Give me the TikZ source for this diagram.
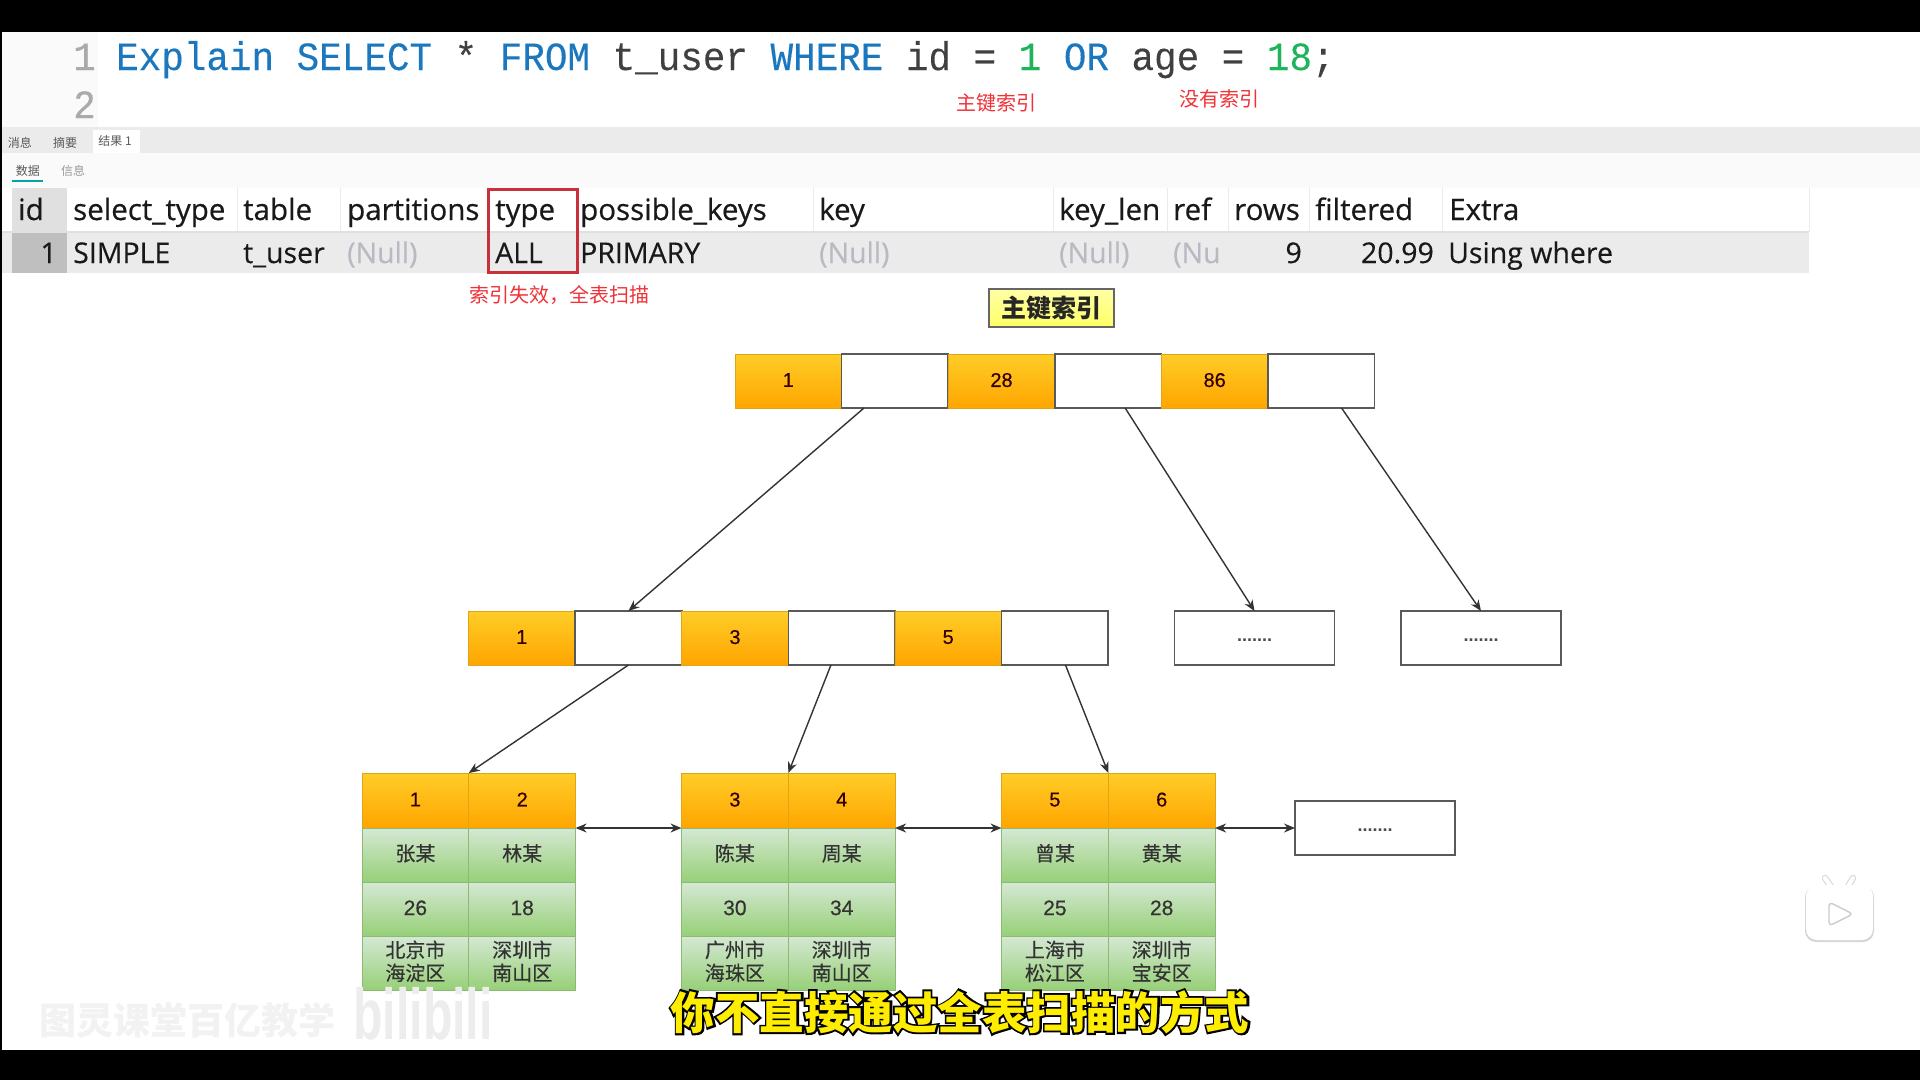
\documentclass[tikz,border=0pt]{standalone}
\usepackage{fontspec}
\setmainfont{Open Sans}
\newfontfamily\headfont[FakeBold=0.5]{Open Sans}
\newfontfamily\valfont[FakeBold=0.3]{Open Sans}
\newfontfamily\sqlfont[FakeStretch=0.94,FakeBold=0.2]{Liberation Mono}
\newfontfamily\cjk{Noto Sans CJK SC}
\newfontfamily\cjkleaf[FakeBold=0.3]{Noto Sans CJK SC}
\newfontfamily\outlinefont[FakeBold=10]{Noto Sans CJK SC Bold}
\newfontfamily\numfont{Liberation Sans}
\newfontfamily\digitfont[FakeBold=0.4]{Liberation Sans}
\usetikzlibrary{positioning,arrows.meta,calc}
\definecolor{sqlblue}{RGB}{28,120,190}
\definecolor{sqlgreen}{RGB}{30,180,90}
\definecolor{sqlgray}{RGB}{170,170,170}
\definecolor{nullgray}{RGB}{185,185,195}
\definecolor{notered}{RGB}{240,50,55}
\definecolor{boxred}{RGB}{200,48,60}
\definecolor{keytop}{RGB}{255,205,40}
\definecolor{keybot}{RGB}{255,165,0}
\definecolor{keyline}{RGB}{225,165,20}
\definecolor{datatop}{RGB}{213,232,212}
\definecolor{databot}{RGB}{151,208,119}
\definecolor{dataline}{RGB}{140,185,115}
\newcommand{\fsize}[1]{\fontsize{#1}{#1}\selectfont}

\begin{document}
\begin{tikzpicture}[
    x=1pt, y=-1pt,
    keycell/.style={rectangle, draw=keyline, line width=0.8pt, top color=keytop, bottom color=keybot,
                    minimum width=106.6pt, minimum height=54pt, inner sep=0pt, outer sep=0pt, text depth=2pt,
                    font=\digitfont\fsize{20}, text=black!80!red},
    ptrcell/.style={rectangle, draw=black!65, line width=1.6pt, fill=white,
                    minimum width=106.6pt, minimum height=54pt, inner sep=0pt, outer sep=0pt},
    dotbox/.style={ptrcell, minimum width=160pt, font=\numfont\bfseries\fsize{18}, text=black!70},
    datacell/.style={rectangle, draw=dataline, line width=0.7pt, top color=datatop, bottom color=databot,
                     minimum width=106.8pt, minimum height=54pt, inner sep=0pt, outer sep=0pt, align=center, text depth=5pt,
                     font=\cjkleaf\fontsize{20}{23}\selectfont, text=black!80},
    numcell/.style={datacell, text depth=2.5pt, font=\digitfont\fsize{21}},
    headcell/.style={keycell, minimum width=106.8pt, minimum height=55pt},
    colhead/.style={anchor=base west, inner sep=0pt, font=\headfont\fsize{29.5}, text=black!90},
    colval/.style={anchor=base west, inner sep=0pt, font=\valfont\fsize{28.5}, text=black!90},
    nullval/.style={colval, text=nullgray},
    redlabel/.style={inner sep=0pt, font=\cjk\fsize{20}, text=notered},
    tabtext/.style={inner sep=0pt, font=\cjk\fsize{12}, text=black!65},
    flow/.style={-{Stealth[length=11pt,width=9pt]}, line width=1.4pt, draw=black!80},
    link/.style={{Stealth[length=11pt,width=9pt]}-{Stealth[length=11pt,width=9pt]}, line width=1.4pt, draw=black!80}]
  \useasboundingbox (0,0) rectangle (1920,1080);
  % frame and panels
  \fill[black] (0,0) rectangle (1920,1080);
  \fill[white] (2,32) rectangle (1920,1050);
  \fill[black!2] (2,32) rectangle (98,127);
  \fill[black!8] (2,127) rectangle (1920,153);
  \fill[black!2] (2,153) rectangle (1920,188);
  \fill[white] (93,130) rectangle (140,153);
  \fill[white] (2,188) rectangle (1809,232);
  \fill[black!8] (2,232) rectangle (1809,273);
  \fill[black!12] (12,188) rectangle (67,232);
  \fill[black!25] (12,232) rectangle (67,273);
  \foreach \sepx in {237,340,488,577,813,1053,1167,1228,1309,1442,1809}
    \draw[black!8, line width=1pt] (\sepx,188) -- (\sepx,232);
  \draw[black!12, line width=1.2pt] (2,232) -- (1809,232);
  % sql
  \node[anchor=base east, inner sep=0pt, font=\sqlfont\fsize{40}, text=sqlgray] (ln1) at (96,70) {1};
  \node[anchor=base east, inner sep=0pt, font=\sqlfont\fsize{40}, text=sqlgray] (ln2) at (96,118) {2};
  \node[anchor=base west, inner sep=0pt, font=\sqlfont\fsize{40}, text=black!75] (sql) at (116,70)
    {\textcolor{sqlblue}{Explain SELECT} * \textcolor{sqlblue}{FROM} t\_user \textcolor{sqlblue}{WHERE} id = \textcolor{sqlgreen}{1} \textcolor{sqlblue}{OR} age = \textcolor{sqlgreen}{18};};
  \node[redlabel] (pklabel) at (996,103) {主键索引};
  \node[redlabel] (noidx) at (1219,99) {没有索引};
  % tabs
  \node[tabtext] (tab1) at (20,143) {消息};
  \node[tabtext] (tab2) at (65,143) {摘要};
  \node[tabtext] (tab3) at (115,141) {结果 1};
  \node[tabtext] (tab4) at (28,171) {数据};
  \node[tabtext, text=black!40] (tab5) at (73,171) {信息};
  \fill[teal!70!cyan] (12,180) rectangle (43,182);
  % table
  \foreach \colname/\colx/\coltext in {cid/18/id, cst/73/select\_type, ctb/243/table, cpt/347/partitions, cty/495/type, cpk/580/possible\_keys, cky/819/key, ckl/1059/key\_len, crf/1173/ref, crw/1234/rows, cfl/1315/filtered, cex/1449/Extra}
    \node[colhead] (\colname) at (\colx,220) {\coltext};
  \node[colval, anchor=base east] (vid) at (57,263) {1};
  \node[colval] (vst) at (73,263) {SIMPLE};
  \node[colval] (vtb) at (243,263) {t\_user};
  \node[nullval] (vpt) at (347,263) {(Null)};
  \node[colval] (vty) at (495,263) {ALL};
  \node[colval] (vpk) at (580,263) {PRIMARY};
  \node[nullval] (vky) at (819,263) {(Null)};
  \node[nullval] (vkl) at (1059,263) {(Null)};
  \node[nullval] (vrf) at (1173,263) {(Nu};
  \node[colval, anchor=base east] (vrw) at (1302,263) {9};
  \node[colval, anchor=base east] (vfl) at (1434,263) {20.99};
  \node[colval] (vex) at (1448,263) {Using where};
  \draw[boxred, line width=3pt] (488,189) rectangle (577,272);
  \node[redlabel] (fullscan) at (559,295) {索引失效，全表扫描};
  % title
  \node[rectangle, draw=black!60, line width=1.4pt, top color=yellow!35, bottom color=yellow!60, minimum width=125pt, minimum height=38pt,
        inner sep=0pt, font=\cjk\bfseries\fsize{25}, text=black!85] (title) at (1051.5,308) {主键索引};
  % root
  \node[keycell] (r1) at (788.3,381) {1};
  \node[ptrcell, right=0pt of r1] (r2) {};
  \node[keycell, right=0pt of r2] (r3) {28};
  \node[ptrcell, right=0pt of r3] (r4) {};
  \node[keycell, right=0pt of r4] (r5) {86};
  \node[ptrcell, right=0pt of r5] (r6) {};
  % middle level
  \node[keycell] (m1) at (521.8,638) {1};
  \node[ptrcell, right=0pt of m1] (m2) {};
  \node[keycell, right=0pt of m2] (m3) {3};
  \node[ptrcell, right=0pt of m3] (m4) {};
  \node[keycell, right=0pt of m4] (m5) {5};
  \node[ptrcell, right=0pt of m5] (m6) {};
  \node[dotbox] (d1) at (1254.5,638) {\smash{\raisebox{-3pt}{.......}}};
  \node[dotbox] (d2) at (1481,638) {\smash{\raisebox{-3pt}{.......}}};
  % leaves
  \node[headcell] (a1) at (415.4,800.5) {1};
  \node[headcell, right=0pt of a1] (a2) {2};
  \node[datacell, below=0pt of a1] (a3) {张某};
  \node[datacell, below=0pt of a2] (a4) {林某};
  \node[numcell, below=0pt of a3] (a5) {26};
  \node[numcell, below=0pt of a4] (a6) {18};
  \node[datacell, below=0pt of a5] (a7) {北京市\\海淀区};
  \node[datacell, below=0pt of a6] (a8) {深圳市\\南山区};
  \node[headcell] (b1) at (734.9,800.5) {3};
  \node[headcell, right=0pt of b1] (b2) {4};
  \node[datacell, below=0pt of b1] (b3) {陈某};
  \node[datacell, below=0pt of b2] (b4) {周某};
  \node[numcell, below=0pt of b3] (b5) {30};
  \node[numcell, below=0pt of b4] (b6) {34};
  \node[datacell, below=0pt of b5] (b7) {广州市\\海珠区};
  \node[datacell, below=0pt of b6] (b8) {深圳市\\南山区};
  \node[headcell] (c1) at (1054.9,800.5) {5};
  \node[headcell, right=0pt of c1] (c2) {6};
  \node[datacell, below=0pt of c1] (c3) {曾某};
  \node[datacell, below=0pt of c2] (c4) {黄某};
  \node[numcell, below=0pt of c3] (c5) {25};
  \node[numcell, below=0pt of c4] (c6) {28};
  \node[datacell, below=0pt of c5] (c7) {上海市\\松江区};
  \node[datacell, below=0pt of c6] (c8) {深圳市\\宝安区};
  \node[dotbox] (d3) at (1375,828) {\smash{\raisebox{-3pt}{.......}}};
  % connectors
  \draw[flow] ($(r2.south west)!.21!(r2.south east)$) -- (m2.north);
  \draw[flow] ($(r4.south west)!.66!(r4.south east)$) -- (d1.north);
  \draw[flow] ($(r6.south west)!.69!(r6.south east)$) -- (d2.north);
  \draw[flow] (m2.south) -- (a1.north east);
  \draw[flow] ($(m4.south west)!.4!(m4.south east)$) -- (b1.north east);
  \draw[flow] ($(m6.south west)!.6!(m6.south east)$) -- (c1.north east);
  \draw[link] (a2.south east) -- (b1.south west);
  \draw[link] (b2.south east) -- (c1.south west);
  \draw[link] (c2.south east) -- (d3.west);
  % watermark
  \node[inner sep=0pt, font=\cjk\bfseries\fsize{37}, text=black!5] (mark) at (187,1020) {图灵课堂百亿教学};
  \node[inner sep=0pt, font=\numfont\bfseries\fsize{72}, text=black!7, xscale=.67, transform shape] (bili) at (423,1014) {bilibili};
  % play icon
  \draw[black!14, line width=6.5pt, line cap=round] (1825,878) -- (1832,888);
  \draw[black!14, line width=6.5pt, line cap=round] (1853,878) -- (1847,888);
  \fill[black!16, rounded corners=11pt] (1805,886) rectangle (1874,942);
  \draw[white, line width=4pt, line cap=round] (1825,878) -- (1832,888);
  \draw[white, line width=4pt, line cap=round] (1853,878) -- (1847,888);
  \fill[white, rounded corners=11pt] (1806,885) rectangle (1873,940);
  \draw[black!20, fill=white, line width=1.4pt, rounded corners=4pt] (1829,902) -- (1853,914) -- (1829,926) -- cycle;
  % subtitle
  \node[inner sep=0pt, font=\outlinefont\fsize{44.5}, text=black] (subback) at (960,1012) {你不直接通过全表扫描的方式};
  \node[inner sep=0pt, font=\cjk\bfseries\fsize{44.5}, text=yellow!95!orange] (subtitle) at (subback) {你不直接通过全表扫描的方式};
\end{tikzpicture}
\end{document}
